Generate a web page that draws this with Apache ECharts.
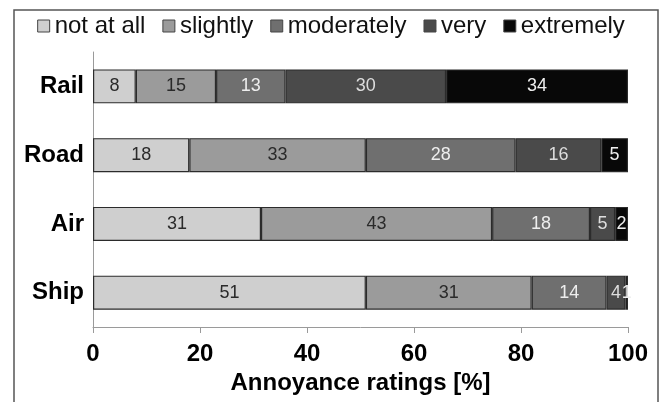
<!DOCTYPE html>
<html>
<head>
<meta charset="utf-8">
<script src="https://cdn.jsdelivr.net/npm/echarts@6/dist/echarts.min.js"></script>
<style>
  html, body { margin: 0; padding: 0; background: #fff; }
  #chart { width: 662px; height: 402px; }
</style>
</head>
<body>
<div id="chart"></div>
<script>
const categories = ['Rail', 'Road', 'Air', 'Ship'];
const seriesNames = ['not at all', 'slightly', 'moderately', 'very', 'extremely'];
const notAtAll   = [8, 18, 31.4, 51];
const slightly   = [15, 33, 43.2, 31];
const moderately = [13, 28, 18.3, 14];
const very       = [30, 16, 4.7, 3.5];
const extremely  = [34, 5, 2.4, 0.5];
const xTicks = [0, 20, 40, 60, 80, 100];

const values = [notAtAll, slightly, moderately, very, extremely];
const fills = ['#cfcfcf', '#9b9b9b', '#6f6f6f', '#4a4a4a', '#080808'];
const labelColors = ['#2a2a2a', '#2a2a2a', '#eeeeee', '#dddddd', '#eeeeee'];
const FONT = 'Liberation Sans, Arial, sans-serif';

const chart = echarts.init(document.getElementById('chart'), null, { renderer: 'canvas' });
chart.setOption({
  animation: false,
  backgroundColor: '#ffffff',
  graphic: [{
    type: 'rect',
    shape: { x: 14, y: 10, width: 644, height: 420 },
    style: { fill: 'none', stroke: '#555555', lineWidth: 1.5 },
    silent: true,
    z: -1
  }],
  legend: {
    top: 9,
    left: 'center',
    itemWidth: 12,
    itemHeight: 12,
    itemGap: 17,
    icon: 'rect',
    textStyle: { fontFamily: FONT, fontSize: 24, color: '#111' },
    data: seriesNames.map((n, i) => ({ name: n, itemStyle: { borderColor: '#444', borderWidth: 1 } }))
  },
  grid: { left: 93, right: 34, top: 52, bottom: 75 },
  xAxis: {
    type: 'value',
    min: 0, max: 100, interval: 20,
    name: 'Annoyance ratings [%]',
    nameLocation: 'middle',
    nameGap: 43,
    nameTextStyle: { fontFamily: FONT, fontSize: 24, fontWeight: 'bold', color: '#000' },
    axisLine: { show: true, lineStyle: { color: '#9a9a9a', width: 1 } },
    axisTick: { show: true, length: 6, lineStyle: { color: '#9a9a9a' } },
    splitLine: { show: false },
    axisLabel: {
      margin: 15,
      fontFamily: FONT, fontSize: 24, fontWeight: 'bold', color: '#000',
      formatter: v => xTicks.includes(v) ? String(v) : ''
    }
  },
  yAxis: {
    type: 'category',
    inverse: true,
    data: categories,
    axisLine: { show: true, lineStyle: { color: '#9a9a9a', width: 1 } },
    axisTick: { show: false },
    axisLabel: {
      margin: 9,
      fontFamily: FONT, fontSize: 24, fontWeight: 'bold', color: '#000'
    }
  },
  series: seriesNames.map((name, i) => ({
    name: name,
    type: 'bar',
    stack: 'total',
    barWidth: 34,
    data: values[i],
    itemStyle: { color: fills[i], borderColor: '#2b2b2b', borderWidth: 1.2 },
    label: {
      show: true,
      position: 'inside',
      fontFamily: FONT,
      fontSize: 18,
      color: labelColors[i],
      formatter: p => String(Math.round(p.value))
    }
  }))
});
</script>
</body>
</html>
